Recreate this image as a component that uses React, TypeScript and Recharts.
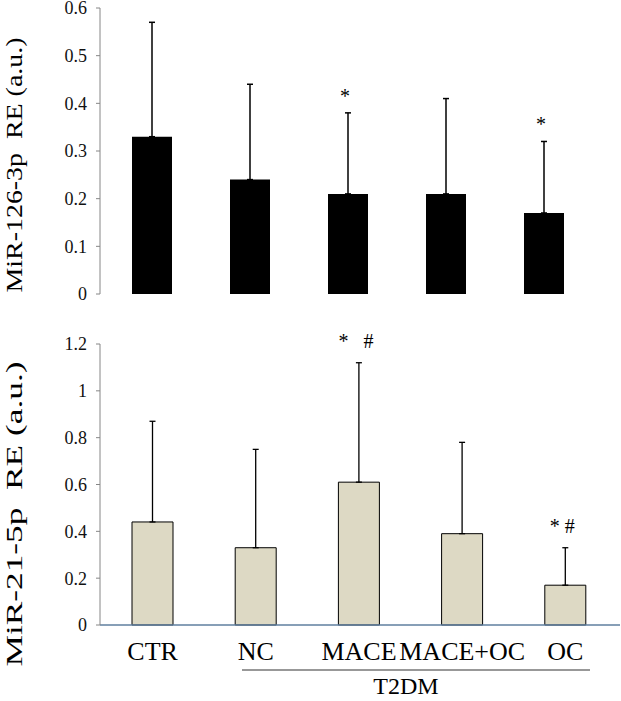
import React from 'react';
import { BarChart, Bar, XAxis, YAxis, ErrorBar, LabelList, Label, Customized } from 'recharts';

const categories = ['CTR', 'NC', 'MACE', 'MACE+OC', 'OC'];
const mir126Mean = [0.33, 0.24, 0.21, 0.21, 0.17];
const mir126Sd = [0.24, 0.2, 0.17, 0.2, 0.15];
const mir126Marks = ['', '', '*', '', '*'];
const mir21Mean = [0.44, 0.33, 0.61, 0.39, 0.17];
const mir21Sd = [0.43, 0.42, 0.51, 0.39, 0.16];
const mir21Marks = ['', '', '*   #', '', '* #'];
const ticks126 = [0, 0.1, 0.2, 0.3, 0.4, 0.5, 0.6];
const ticks21 = [0, 0.2, 0.4, 0.6, 0.8, 1, 1.2];
const groupLabel = 'T2DM';

const data126 = categories.map((name, i) => ({
  name,
  mean: mir126Mean[i],
  sd: mir126Sd[i],
  err: [0, mir126Sd[i]],
  mark: mir126Marks[i],
}));
const data21 = categories.map((name, i) => ({
  name,
  mean: mir21Mean[i],
  sd: mir21Sd[i],
  err: [0, mir21Sd[i]],
  mark: mir21Marks[i],
}));

const FONT = 'Liberation Serif';
const AXIS_GREY = '#868686';
const BASE_BLUE = '#5f7f9f';

const makeMark = (rows: any[], offset: number) => (props: any) => {
  const { x, y, width, height, value, index } = props;
  if (!value) return null;
  const row = rows[index];
  const pxPerUnit = Number(height) / row.mean;
  const errTop = Number(y) - row.sd * pxPerUnit;
  return (
    <text
      x={Number(x) + Number(width) / 2 - 3}
      y={errTop - offset}
      textAnchor="middle"
      dominantBaseline="central"
      fontFamily={FONT}
      fontSize={20}
      fill="#000"
      style={{ whiteSpace: 'pre' }}
    >
      {value}
    </text>
  );
};

const yLabel = (text: string, cy: number, len: number) => () => (
  <text
    x={14}
    y={cy}
    transform={`rotate(-90, 14, ${cy})`}
    textAnchor="middle"
    dominantBaseline="central"
    fontFamily={FONT}
    fontSize={24}
    fill="#000"
    textLength={len}
    lengthAdjust="spacingAndGlyphs"
    style={{ whiteSpace: 'pre' }}
  >
    {text}
  </text>
);

const Bracket = () => (
  <g>
    <line x1={242} y1={360} x2={590} y2={360} stroke="#333" strokeWidth={1.2} />
    <text x={406} y={384} textAnchor="middle" fontFamily={FONT} fontSize={24} fill="#000">
      {groupLabel}
    </text>
  </g>
);

export default function App() {
  return (
    <div style={{ position: 'absolute', left: 0, top: 0, width: 621, height: 701, background: '#fff' }}>
      <div style={{ position: 'absolute', left: 0, top: 0 }}>
        <BarChart width={621} height={310} data={data126} margin={{ top: 8, right: 8, bottom: 16, left: 0 }}>
          <XAxis
            dataKey="name"
            height={0}
            tick={false}
            tickLine={false}
            axisLine={{ stroke: BASE_BLUE, strokeWidth: 1.5 }}
            padding={{ left: 3, right: 20 }}
          />
          <YAxis
            width={100}
            domain={[0, 0.6]}
            ticks={ticks126}
            tickSize={4}
            tickMargin={9}
            axisLine={{ stroke: AXIS_GREY }}
            tickLine={{ stroke: AXIS_GREY }}
            tick={{ fontFamily: FONT, fontSize: 18, fill: '#111' }}
            interval={0}
          >
            <Label content={yLabel('MiR-126-3p  RE (a.u.)', 165, 255)} />
          </YAxis>
          <Bar dataKey="mean" fill="#000" barSize={40} isAnimationActive={false}>
            <ErrorBar dataKey="err" width={3} stroke="#000" strokeWidth={1.5} direction="y" />
            <LabelList dataKey="mark" content={makeMark(data126, 17)} />
          </Bar>
        </BarChart>
      </div>
      <div style={{ position: 'absolute', left: 0, top: 310 }}>
        <BarChart width={621} height={391} data={data21} margin={{ top: 34, right: 1, bottom: 0, left: 0 }}>
          <XAxis
            dataKey="name"
            height={76}
            tickSize={0}
            tickMargin={17}
            tickLine={false}
            interval={0}
            axisLine={{ stroke: BASE_BLUE, strokeWidth: 1.5 }}
            tick={{ fontFamily: FONT, fontSize: 26, fill: '#000' }}
            padding={{ left: 1, right: 3 }}
          />
          <YAxis
            width={100}
            domain={[0, 1.2]}
            ticks={ticks21}
            tickSize={4}
            tickMargin={9}
            axisLine={{ stroke: AXIS_GREY }}
            tickLine={{ stroke: AXIS_GREY }}
            tick={{ fontFamily: FONT, fontSize: 18, fill: '#111' }}
            interval={0}
          >
            <Label content={yLabel('MiR-21-5p  RE (a.u.)', 204, 305)} />
          </YAxis>
          <Bar dataKey="mean" fill="#ddd9c4" stroke="#000" strokeWidth={1} barSize={41} isAnimationActive={false}>
            <ErrorBar dataKey="err" width={3} stroke="#000" strokeWidth={1.3} direction="y" />
            <LabelList dataKey="mark" content={makeMark(data21, 22)} />
          </Bar>
          <Customized component={Bracket} />
        </BarChart>
      </div>
    </div>
  );
}
